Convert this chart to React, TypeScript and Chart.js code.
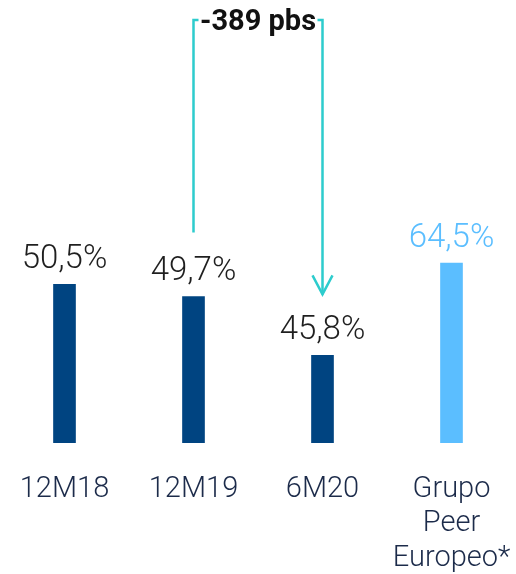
import React, { useEffect, useRef } from 'react';
import { Chart, registerables } from 'chart.js';

Chart.register(...registerables);

const categories: string[][] = [['12M18'], ['12M19'], ['6M20'], ['Grupo', 'Peer', 'Europeo*']];
const bankValues: (number | null)[] = [50.5, 49.7, 45.8, null];
const peerValues: (number | null)[] = [null, null, null, 64.5];
const deltaLabel = '-389 pbs';
const deltaFromIndex = 1;
const deltaToIndex = 2;

const NAVY = '#004481';
const LIGHT = '#5bbeff';
const TEAL = '#2dcccd';
const VALUE_TEXT = '#1f1f1f';
const AXIS_TEXT = '#1c2b4a';
const FONT = 'Roboto';

const fmt = (v: number) => v.toFixed(1).replace('.', ',') + '%';

const valueLabels = {
  id: 'valueLabels',
  afterDatasetsDraw(chart: any) {
    const ctx = chart.ctx;
    chart.data.datasets.forEach((ds: any, i: number) => {
      const meta = chart.getDatasetMeta(i);
      meta.data.forEach((bar: any, j: number) => {
        const v = ds.data[j];
        if (v == null) return;
        ctx.save();
        ctx.font = `300 33px ${FONT}`;
        ctx.fillStyle = ds.labelColor;
        ctx.textAlign = 'center';
        ctx.textBaseline = 'alphabetic';
        ctx.fillText(fmt(v), bar.x, bar.y - 16);
        ctx.restore();
      });
    });
  },
};

const deltaArrow = {
  id: 'deltaArrow',
  afterDraw(chart: any) {
    const ctx = chart.ctx;
    const meta = chart.getDatasetMeta(0);
    const a = meta.data[deltaFromIndex];
    const b = meta.data[deltaToIndex];
    if (!a || !b) return;
    const top = chart.chartArea.top;
    const aEnd = a.y - 64;
    const bEnd = b.y - 61;
    ctx.save();
    ctx.strokeStyle = TEAL;
    ctx.lineWidth = 2.5;
    ctx.lineCap = 'butt';
    ctx.lineJoin = 'miter';
    ctx.beginPath();
    ctx.moveTo(a.x + 5, top);
    ctx.lineTo(a.x, top);
    ctx.lineTo(a.x, aEnd);
    ctx.moveTo(b.x - 5, top);
    ctx.lineTo(b.x, top);
    ctx.lineTo(b.x, bEnd);
    ctx.stroke();
    ctx.beginPath();
    ctx.moveTo(b.x - 10, bEnd - 19);
    ctx.lineTo(b.x, bEnd);
    ctx.lineTo(b.x + 10, bEnd - 19);
    ctx.stroke();
    ctx.font = `bold 29px ${FONT}`;
    ctx.fillStyle = '#111111';
    ctx.textAlign = 'center';
    ctx.textBaseline = 'middle';
    ctx.fillText(deltaLabel, (a.x + b.x) / 2, top + 3);
    ctx.restore();
  },
};

export default function App() {
  const ref = useRef<HTMLCanvasElement | null>(null);

  useEffect(() => {
    if (!ref.current) return;
    const chart = new Chart(ref.current, {
      type: 'bar',
      data: {
        labels: categories as any,
        datasets: [
          {
            label: 'Banco',
            data: bankValues,
            backgroundColor: NAVY,
            barThickness: 22,
            grouped: false,
            yAxisID: 'y',
            labelColor: VALUE_TEXT,
          } as any,
          {
            label: 'Grupo Peer Europeo',
            data: peerValues,
            backgroundColor: LIGHT,
            barThickness: 22,
            grouped: false,
            yAxisID: 'y2',
            labelColor: LIGHT,
          } as any,
        ],
      },
      options: {
        responsive: false,
        animation: false,
        layout: { padding: { top: 20, left: 0, right: 0, bottom: 0 } },
        plugins: {
          legend: { display: false },
          tooltip: { enabled: false },
        },
        scales: {
          x: {
            grid: { display: false, drawTicks: false },
            border: { display: false },
            ticks: {
              color: AXIS_TEXT,
              padding: 29,
              font: { family: FONT, size: 29, weight: '300' as any, lineHeight: 1.2 },
              maxRotation: 0,
              autoSkip: false,
            },
            afterFit: (scale: any) => {
              scale.height = 131;
              scale.paddingLeft = 0;
              scale.paddingRight = 0;
            },
          },
          y: { display: false, min: 40, max: 68 },
          y2: { display: false, min: 0, max: 151.6 },
        },
      },
      plugins: [valueLabels, deltaArrow],
    });
    return () => chart.destroy();
  }, []);

  return (
    <div style={{ position: 'fixed', left: 0, top: 0, width: 516, height: 574, background: '#fff' }}>
      <canvas ref={ref} width={516} height={574} style={{ display: 'block' }} />
    </div>
  );
}
